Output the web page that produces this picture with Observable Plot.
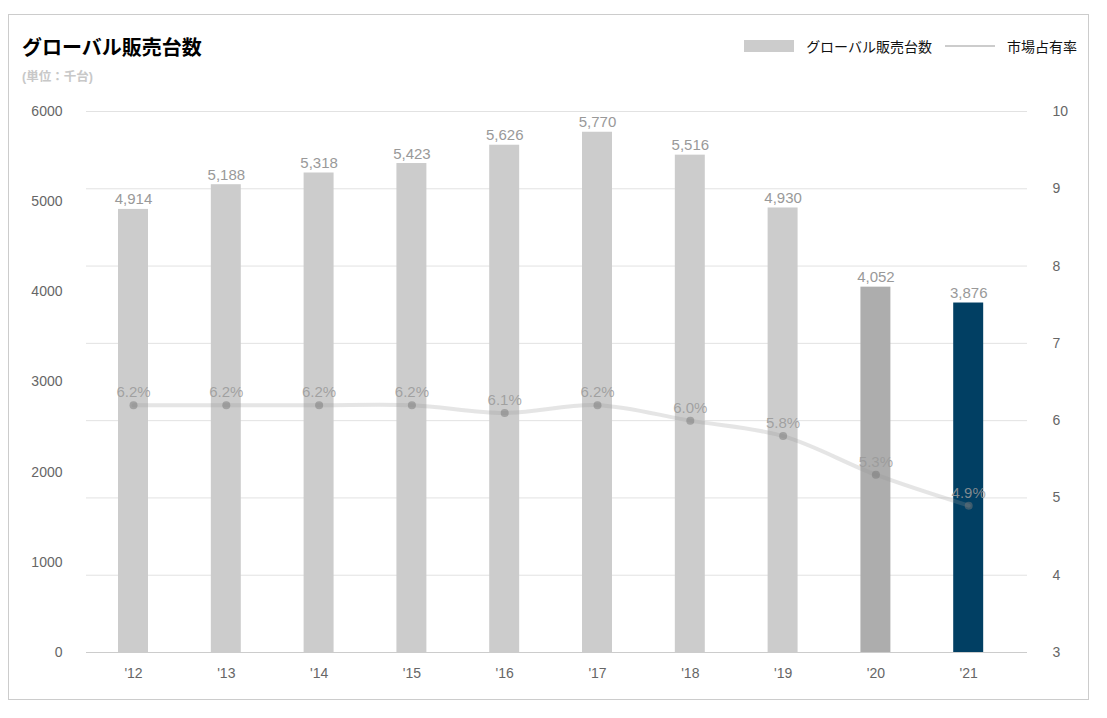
<!DOCTYPE html>
<html>
<head>
<meta charset="utf-8">
<script src="https://cdn.jsdelivr.net/npm/d3@7"></script>
<script src="https://cdn.jsdelivr.net/npm/@observablehq/plot@0.6"></script>
<style>
  html, body { margin: 0; padding: 0; background: #fff; }
  body { font-family: "Liberation Sans", Arial, "Noto Sans CJK JP", sans-serif; }
  #frame { position: absolute; left: 8px; top: 14px; width: 1079px; height: 684px; border: 1px solid #cccccc; }
  #title { position: absolute; left: 13px; top: 17px; font-size: 20px; font-weight: bold; color: #000; }
  #sub { position: absolute; left: 13px; top: 51px; font-size: 12.5px; font-weight: bold; color: #c8c8c8; }
  #legend { position: absolute; right: 11px; top: 21px; display: flex; align-items: center; font-size: 14px; color: #111; }
  .sw-bar { width: 50px; height: 12px; background: #cccccc; margin-right: 12px; }
  .sw-line { width: 50px; height: 2px; background: #cccccc; margin-left: 13px; margin-right: 12px; }
  #chart { position: absolute; left: 0; top: 0; }
</style>
</head>
<body>
<div id="frame">
  <div id="chart"></div>
  <div id="title">グローバル販売台数</div>
  <div id="sub">(単位：千台)</div>
  <div id="legend"><div class="sw-bar"></div><span>グローバル販売台数</span><div class="sw-line"></div><span>市場占有率</span></div>
</div>
<script>
const years = ["'12", "'13", "'14", "'15", "'16", "'17", "'18", "'19", "'20", "'21"];
const sales = [4914, 5188, 5318, 5423, 5626, 5770, 5516, 4930, 4052, 3876];
const share = [6.2, 6.2, 6.2, 6.2, 6.1, 6.2, 6.0, 5.8, 5.3, 4.9];
const salesTicks = [0, 1000, 2000, 3000, 4000, 5000, 6000];
const shareTicks = [3, 4, 5, 6, 7, 8, 9, 10];

const table = years.map((year, i) => ({year, sales: sales[i], share: share[i]}));
const s = d3.scaleLinear([3, 10], [0, 6000]);
const barFill = d => d.year === "'21" ? "#013f63" : d.year === "'20" ? "#adadad" : "#cccccc";

const chart = Plot.plot({
  width: 1079,
  height: 684,
  marginTop: 96,
  marginBottom: 47,
  marginLeft: 77,
  marginRight: 61,
  style: { fontFamily: "'Liberation Sans', Arial, sans-serif", fontSize: "14px", color: "#666", background: "transparent" },
  x: { domain: years, range: [77.6, 1005.6], paddingInner: 0.677, paddingOuter: 0.3385, round: false, label: null },
  y: { domain: [0, 6000], label: null },
  marks: [
    Plot.gridY(shareTicks.map(s), { stroke: "#e2e2e2", strokeOpacity: 1 }),
    Plot.barY(table, { x: "year", y: "sales", fill: barFill }),
    Plot.ruleY([0], { stroke: "#cccccc" }),
    Plot.text(table, { x: "year", y: "sales", text: d => d3.format(",")(d.sales), dy: -5, lineAnchor: "bottom", fill: "#999999", fontSize: 15 }),
    Plot.line(table, { x: "year", y: d => s(d.share), curve: "catmull-rom", stroke: "#999999", strokeOpacity: 0.25, strokeWidth: 4 }),
    Plot.dot(table, { x: "year", y: d => s(d.share), r: 4, fill: "#777777", fillOpacity: 0.5 }),
    Plot.text(table, { x: "year", y: d => s(d.share), text: d => d.share.toFixed(1) + "%", dy: -8, lineAnchor: "bottom", fill: "#999999", fillOpacity: 0.85, fontSize: 15 }),
    Plot.axisY(salesTicks, { anchor: "left", tickSize: 0, tickPadding: 24, label: null, tickFormat: d => String(d) }),
    Plot.axisY(shareTicks.map(s), { anchor: "right", tickSize: 0, tickPadding: 25, label: null, tickFormat: v => String(Math.round(s.invert(v))) }),
    Plot.axisX({ tickSize: 0, tickPadding: 16, label: null })
  ]
});
document.getElementById("chart").appendChild(chart);
</script>
</body>
</html>
